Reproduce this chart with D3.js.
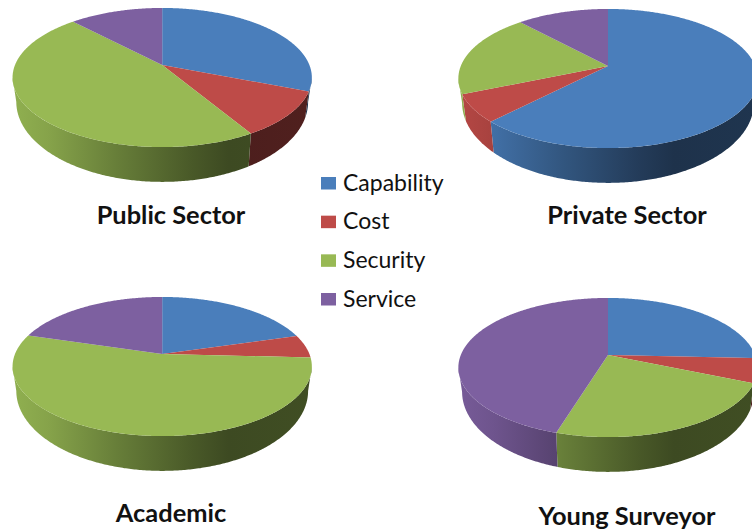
<!DOCTYPE html>
<html>
<head>
<meta charset="utf-8">
<script src="https://cdn.jsdelivr.net/npm/d3@7/dist/d3.min.js"></script>
<style>
  html, body { margin: 0; padding: 0; background: #fff; overflow: hidden; }
  svg { display: block; }
  text { font-family: Lato, "Open Sans", sans-serif; fill: #111; }
</style>
</head>
<body>
<svg id="chart" width="752" height="531"></svg>
<script>
// Survey shares (percent) per respondent group.
const categories = ["Capability", "Cost", "Security", "Service"];
const publicSector = [31, 10.5, 46.5, 12];
const privateSector = [62.2, 6.4, 19.6, 11.8];
const academic = [20.5, 5.3, 53.9, 20.3];
const youngSurveyor = [25.7, 5.7, 23.3, 45.3];
const panelTitles = ["Public Sector", "Private Sector", "Academic", "Young Surveyor"];
const seriesColors = ["#4a7ebb", "#be4b48", "#98b954", "#7d60a0"];

const panels = [
  { values: publicSector,  cx: 162.2, cy: 65,  tx: 171, ty: 224 },
  { values: privateSector, cx: 608,   cy: 66,  tx: 627, ty: 224 },
  { values: academic,      cx: 162.2, cy: 354, tx: 171, ty: 522 },
  { values: youngSurveyor, cx: 608,   cy: 355, tx: 627, ty: 525 }
];

// Tilted-disc projection: a unit circle seen in perspective, apex at (cx, cy).
const discRx = 147.2, discRy = 67.3, tilt = 0.18;
const project = (p, a) => {
  const X = Math.sin(a), Y = -Math.cos(a), w = 1 - tilt * Y;
  return [p.cx + discRx * X / w, p.cy + discRy * Y / w];
};
// The lower disc edge sits further from the viewer, so it is a little narrower.
const lowerEdge = (p, [x, y]) => [
  p.cx + (x - p.cx) * 0.975,
  p.cy + 22.5 + (y - p.cy) * 1.15
];
// The rim faces the viewer between these two angles.
const frontStart = Math.acos(-tilt), frontEnd = 2 * Math.PI - frontStart;

const svg = d3.select("#chart");
const defs = svg.append("defs");
const pie = d3.pie().sort(null).value(d => d);
const line = d3.line();
const arcSamples = (a0, a1) => {
  const n = Math.max(2, Math.ceil((a1 - a0) / 0.01));
  return d3.range(n + 1).map(i => a0 + (a1 - a0) * i / n);
};

// Side wall shading runs left to right across the whole disc.
const shadeStops = [[0, 0.95], [0.12, 0.88], [0.35, 0.68], [0.6, 0.48], [0.72, 0.4], [1, 0.42]];

panels.forEach((p, pi) => {
  const g = svg.append("g");
  categories.forEach((c, ci) => {
    const grad = defs.append("linearGradient")
      .attr("id", `wall-${pi}-${ci}`)
      .attr("gradientUnits", "userSpaceOnUse")
      .attr("x1", p.cx - 150).attr("x2", p.cx + 150)
      .attr("y1", 0).attr("y2", 0);
    shadeStops.forEach(([o, f]) => {
      const col = d3.rgb(seriesColors[ci]);
      grad.append("stop")
        .attr("offset", o)
        .attr("stop-color", d3.rgb(col.r * f, col.g * f, col.b * f).formatHex());
    });
  });

  const arcs = pie(p.values);

  // Side walls first, then the top faces over them.
  arcs.forEach((d, i) => {
    const a0 = Math.max(d.startAngle, frontStart), a1 = Math.min(d.endAngle, frontEnd);
    if (a1 <= a0) return;
    const rim = arcSamples(a0, a1).map(a => project(p, a));
    const lower = rim.slice().reverse().map(pt => lowerEdge(p, pt));
    g.append("path")
      .attr("d", line(rim.concat(lower)) + "Z")
      .attr("fill", `url(#wall-${pi}-${i})`);
  });

  arcs.forEach((d, i) => {
    const rim = arcSamples(d.startAngle, d.endAngle).map(a => project(p, a));
    g.append("path")
      .attr("d", line([[p.cx, p.cy]].concat(rim)) + "Z")
      .attr("fill", seriesColors[i]);
  });

  g.append("text")
    .attr("x", p.tx).attr("y", p.ty)
    .attr("text-anchor", "middle")
    .attr("font-size", 25.4)
    .attr("font-weight", 700)
    .text(panelTitles[pi]);
});

// Legend between the four discs.
const legendY = d3.scalePoint().domain(categories).range([177, 293]);
const legend = svg.append("g");
categories.forEach((c, i) => {
  legend.append("rect")
    .attr("x", 321).attr("y", legendY(c))
    .attr("width", 15).attr("height", 12.5)
    .attr("fill", seriesColors[i]);
  legend.append("text")
    .attr("x", 343).attr("y", legendY(c) + 13.5)
    .attr("font-size", 23)
    .text(c);
});
</script>
</body>
</html>
